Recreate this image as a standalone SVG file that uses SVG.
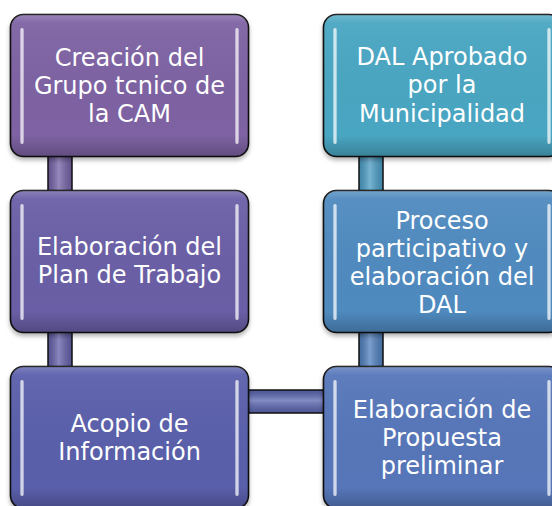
<svg xmlns="http://www.w3.org/2000/svg" width="552" height="506" viewBox="0 0 552 506">
  <defs>
    <linearGradient id="gloss" x1="0" y1="0" x2="0" y2="1">
      <stop offset="0" stop-color="#ffffff" stop-opacity="0.22"/>
      <stop offset="0.06" stop-color="#ffffff" stop-opacity="0.05"/>
      <stop offset="0.85" stop-color="#000000" stop-opacity="0"/>
      <stop offset="1" stop-color="#000000" stop-opacity="0.22"/>
    </linearGradient>
    <linearGradient id="hl" x1="0" y1="0" x2="1" y2="0">
      <stop offset="0" stop-color="#ffffff" stop-opacity="0.35"/>
      <stop offset="0.5" stop-color="#ffffff" stop-opacity="0.85"/>
      <stop offset="1" stop-color="#ffffff" stop-opacity="0.35"/>
    </linearGradient>
    <linearGradient id="vbar" x1="0" y1="0" x2="1" y2="0">
      <stop offset="0" stop-color="#000000" stop-opacity="0.15"/>
      <stop offset="0.45" stop-color="#ffffff" stop-opacity="0.25"/>
      <stop offset="1" stop-color="#000000" stop-opacity="0.15"/>
    </linearGradient>
    <linearGradient id="hbar" x1="0" y1="0" x2="0" y2="1">
      <stop offset="0" stop-color="#000000" stop-opacity="0.15"/>
      <stop offset="0.45" stop-color="#ffffff" stop-opacity="0.25"/>
      <stop offset="1" stop-color="#000000" stop-opacity="0.15"/>
    </linearGradient>
    <filter id="shadow" x="-10%" y="-10%" width="120%" height="125%">
      <feDropShadow dx="0" dy="3" stdDeviation="2" flood-color="#000000" flood-opacity="0.3"/>
    </filter>
  </defs>
  <style>
    .box { stroke: #111111; stroke-width: 1.6; }
    .gl { fill: url(#gloss); }
    .hl { fill: url(#hl); }
    .bar { stroke: #111111; stroke-width: 1.5; }
    .lbl { font-family: "DejaVu Sans", Verdana, sans-serif; font-size: 24px; fill: #ffffff; text-anchor: middle; }
  </style>
  <rect width="552" height="506" fill="#ffffff"/>

  <g id="connectors">
    <rect class="bar" x="48" y="150" width="24" height="48" fill="#7562a6"/>
    <rect x="48" y="150" width="24" height="48" fill="url(#vbar)"/>
    <rect class="bar" x="48" y="326" width="24" height="48" fill="#6360a9"/>
    <rect x="48" y="326" width="24" height="48" fill="url(#vbar)"/>
    <rect class="bar" x="240" y="390" width="90" height="23" fill="#5a66b0"/>
    <rect x="240" y="390" width="90" height="23" fill="url(#hbar)"/>
    <rect class="bar" x="359" y="150" width="24" height="48" fill="#4b9cc4"/>
    <rect x="359" y="150" width="24" height="48" fill="url(#vbar)"/>
    <rect class="bar" x="359" y="326" width="24" height="48" fill="#5080be"/>
    <rect x="359" y="326" width="24" height="48" fill="url(#vbar)"/>
  </g>

  <g id="n1">
    <rect class="box" x="10.5" y="14.5" width="238" height="142" rx="13" fill="#7e62a3" filter="url(#shadow)"/>
    <rect class="gl" x="10.5" y="14.5" width="238" height="142" rx="13"/>
    <rect class="hl" x="20" y="28" width="4" height="116" rx="2"/>
    <rect class="hl" x="235" y="28" width="4" height="116" rx="2"/>
    <text class="lbl"><tspan x="129.5" y="66">Creación del</tspan><tspan x="129.5" y="94">Grupo tcnico de</tspan><tspan x="129.5" y="122">la CAM</tspan></text>
  </g>

  <g id="n2">
    <rect class="box" x="10.5" y="190.5" width="238" height="142" rx="13" fill="#6b5ea6" filter="url(#shadow)"/>
    <rect class="gl" x="10.5" y="190.5" width="238" height="142" rx="13"/>
    <rect class="hl" x="20" y="204" width="4" height="116" rx="2"/>
    <rect class="hl" x="235" y="204" width="4" height="116" rx="2"/>
    <text class="lbl"><tspan x="129.5" y="255">Elaboración del</tspan><tspan x="129.5" y="283">Plan de Trabajo</tspan></text>
  </g>

  <g id="n3">
    <rect class="box" x="10.5" y="366.5" width="238" height="142" rx="13" fill="#5a5fab" filter="url(#shadow)"/>
    <rect class="gl" x="10.5" y="366.5" width="238" height="142" rx="13"/>
    <rect class="hl" x="20" y="380" width="4" height="116" rx="2"/>
    <rect class="hl" x="235" y="380" width="4" height="116" rx="2"/>
    <text class="lbl"><tspan x="129.5" y="432">Acopio de</tspan><tspan x="129.5" y="460">Información</tspan></text>
  </g>

  <g id="n4">
    <rect class="box" x="323.5" y="366.5" width="238" height="142" rx="13" fill="#5676b9" filter="url(#shadow)"/>
    <rect class="gl" x="323.5" y="366.5" width="238" height="142" rx="13"/>
    <rect class="hl" x="333" y="380" width="4" height="116" rx="2"/>
    <rect class="hl" x="547" y="380" width="4" height="116" rx="2"/>
    <text class="lbl"><tspan x="442" y="418">Elaboración de</tspan><tspan x="442" y="446">Propuesta</tspan><tspan x="442" y="474">preliminar</tspan></text>
  </g>

  <g id="n5">
    <rect class="box" x="323.5" y="190.5" width="238" height="142" rx="13" fill="#4f8abf" filter="url(#shadow)"/>
    <rect class="gl" x="323.5" y="190.5" width="238" height="142" rx="13"/>
    <rect class="hl" x="333" y="204" width="4" height="116" rx="2"/>
    <rect class="hl" x="547" y="204" width="4" height="116" rx="2"/>
    <text class="lbl"><tspan x="442" y="229">Proceso</tspan><tspan x="442" y="257">participativo y</tspan><tspan x="442" y="285">elaboración del</tspan><tspan x="442" y="313">DAL</tspan></text>
  </g>

  <g id="n6">
    <rect class="box" x="323.5" y="14.5" width="238" height="142" rx="13" fill="#4aa6c2" filter="url(#shadow)"/>
    <rect class="gl" x="323.5" y="14.5" width="238" height="142" rx="13"/>
    <rect class="hl" x="333" y="28" width="4" height="116" rx="2"/>
    <rect class="hl" x="547" y="28" width="4" height="116" rx="2"/>
    <text class="lbl"><tspan x="442" y="65">DAL Aprobado</tspan><tspan x="442" y="93">por la</tspan><tspan x="442" y="122">Municipalidad</tspan></text>
  </g>
</svg>
